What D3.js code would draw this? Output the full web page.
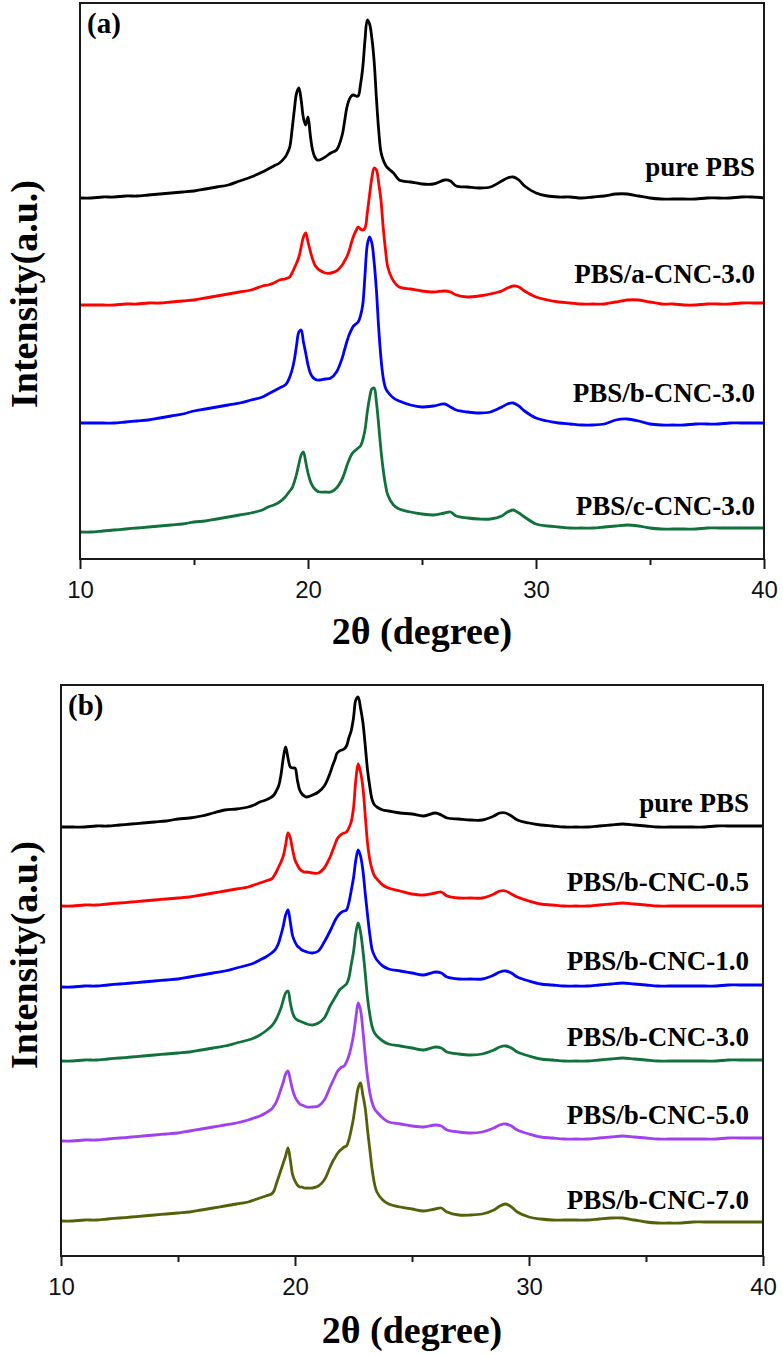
<!DOCTYPE html>
<html><head><meta charset="utf-8">
<script src="https://cdn.jsdelivr.net/npm/d3@7/dist/d3.min.js"></script>
<style>body{margin:0;background:#fff}</style>
</head><body>
<svg id="chart" width="783" height="1357"></svg>
<script>
// 2θ sampling grid (degree), shared by all patterns
const twoTheta = [10,10.5,11,11.5,12,12.5,13,13.5,14,14.5,15,15.5,16,16.5,17,17.5,18,
  18.25,18.5,18.75,
  19.0,19.1,19.2,19.3,19.4,19.5,19.6,19.7,19.8,19.9,20.0,20.1,20.2,20.3,20.4,20.5,
  20.75,21.0,21.25,
  21.5,21.6,21.7,21.8,21.9,22.0,22.1,22.2,22.3,22.4,22.5,22.6,22.7,22.8,22.9,23.0,23.1,23.2,23.3,23.4,23.5,
  23.75,24.0,
  24.5,25,25.5,26,26.25,26.5,27,27.5,28,28.5,28.75,29,29.25,29.5,30,
  30.5,31,31.5,32,32.5,33,33.5,34,34.5,35,35.5,36,36.5,37,37.5,38,38.5,39,39.5,40];

// Panel (a) intensities (a.u.)
const a_purePBS = [20,20,21,21,22,22,23,24,25,26,27,29,31,33,37,41,46,
  49,52,55,
  61,65,71,88,108,125,130,118,100,93,101,83,68,61,58,58,
  61,65,68,
  83,96,110,118,122,123,122,122,133,150,178,198,194,180,157,120,88,66,58,53,50,
  45,38,
  36,34,34,38,37,32,31,30,31,37,40,41,38,32,25,
  22,21,21,20,21,22,24,24,22,20,19,19,19,19,20,20,20,21,21,20];
const a_aCNC30 = [18,18,18,18,19,19,20,20,21,22,23,25,27,29,31,33,37,
  38,40,43,
  44,45,46,50,55,60,66,76,86,90,81,72,64,58,55,53,
  50,50,52,
  58,62,66,72,80,87,92,96,94,93,95,110,128,145,155,153,140,123,95,73,56,
  42,36,
  34,32,31,32,31,28,26,27,29,32,35,37,36,32,26,
  23,21,20,19,19,19,21,23,23,21,19,19,18,18,19,19,19,20,20,20];
const a_bCNC30 = [20,20,20,20,21,22,23,25,27,29,32,34,36,38,40,43,46,
  49,52,55,
  58,61,66,73,83,98,111,113,101,90,78,70,66,64,63,63,
  64,65,71,
  85,93,101,108,113,117,119,121,127,138,168,198,206,200,181,153,115,85,65,55,51,
  45,42,
  38,36,37,39,36,33,31,30,31,36,39,40,37,32,25,
  22,20,19,18,18,19,23,24,22,19,18,18,18,19,19,19,20,20,20,20];
const a_cCNC30 = [16,16,17,18,19,20,21,22,23,24,26,27,29,31,33,35,38,
  41,43,46,
  51,54,57,60,66,74,84,93,96,86,75,67,62,59,57,56,
  56,56,60,
  69,75,82,88,93,96,98,100,102,108,118,136,150,159,160,146,123,98,78,63,53,
  43,39,
  36,34,33,35,36,32,30,29,29,32,36,38,35,31,24,
  22,21,20,20,20,21,22,23,22,20,19,19,19,19,20,20,20,20,20,20];

// Panel (b) intensities (a.u.)
const b_purePBS = [19,19,19,20,20,21,22,23,24,25,27,28,30,33,36,37,39,
  41,44,46,
  49,51,55,60,71,88,99,88,79,78,78,66,56,52,50,49,
  51,54,60,
  73,80,86,93,95,96,97,100,108,115,128,146,149,138,124,101,76,59,46,41,39,
  36,35,
  33,32,30,33,31,28,27,26,26,30,33,33,30,26,23,
  21,20,19,19,19,20,21,22,21,20,19,19,19,19,19,20,20,20,20,20];
const b_bCNC05 = [20,20,21,21,22,23,24,25,26,27,28,29,31,33,35,37,39,
  41,43,45,
  47,50,54,59,64,70,81,93,88,76,66,61,57,55,54,54,
  53,53,58,
  69,75,81,87,90,92,93,94,98,104,118,146,162,154,139,111,83,66,56,50,47,
  41,38,
  35,32,31,33,34,30,28,28,28,32,35,35,32,29,25,
  22,21,20,20,20,21,22,23,22,21,20,20,20,20,20,20,20,20,20,20];
const b_bCNC10 = [18,18,19,19,20,21,22,23,24,25,26,28,30,32,34,37,40,
  42,45,48,
  52,54,57,62,70,79,90,95,83,69,63,59,57,55,54,53,
  52,54,63,
  74,79,84,88,91,93,94,95,102,114,127,145,155,149,135,112,90,70,55,49,45,
  39,36,
  34,32,30,33,32,28,26,26,26,30,33,34,32,28,24,
  21,20,19,19,19,20,21,22,21,20,19,19,19,19,19,19,20,20,20,20];
const b_bCNC30 = [19,19,20,20,21,22,23,24,25,26,27,28,30,32,34,37,40,
  42,45,49,
  54,57,61,66,72,80,87,89,77,67,62,60,59,58,57,56,
  55,57,62,
  74,78,82,86,90,92,94,96,102,115,128,147,157,148,130,107,82,65,53,47,44,
  39,36,
  34,32,30,33,32,28,26,25,26,30,33,34,32,28,24,
  21,20,19,19,19,20,21,22,21,20,19,19,19,19,19,19,20,20,20,20];
const b_bCNC50 = [17,17,18,18,19,20,21,22,23,24,25,27,29,31,33,35,38,
  40,42,45,
  49,52,56,62,69,76,84,87,78,68,61,57,54,53,52,51,
  51,52,58,
  71,76,81,86,89,91,92,96,102,111,123,140,155,148,128,103,81,65,55,49,46,
  40,36,
  34,32,31,33,32,28,26,25,26,30,33,34,32,28,24,
  21,20,19,19,19,20,21,22,21,20,19,19,19,19,19,19,20,20,20,20];
const b_bCNC70 = [21,21,22,22,23,24,25,26,27,28,29,30,32,34,36,38,40,
  42,44,46,
  48,51,58,65,72,79,86,94,82,67,61,57,55,55,54,54,
  54,56,62,
  75,80,84,88,91,93,95,96,102,112,124,140,154,159,147,134,112,92,72,58,50,
  42,38,
  35,33,31,33,34,30,27,27,28,32,36,38,35,30,25,
  23,22,22,22,22,23,24,24,22,20,19,19,19,20,20,20,20,20,20,20];

const labelsA = ["pure PBS","PBS/a-CNC-3.0","PBS/b-CNC-3.0","PBS/c-CNC-3.0"];
const labelsB = ["pure PBS","PBS/b-CNC-0.5","PBS/b-CNC-1.0","PBS/b-CNC-3.0","PBS/b-CNC-5.0","PBS/b-CNC-7.0"];
const offsetsA = [341,236,116,11];          // vertical stacking shift (a.u.)
const offsetsB = [410,330,251,176,98,14];
const majorTicks = [10,20,30,40];
const minorTicks = [15,25,35];

const colorsA = ["#000000","#ff0000","#0000ff","#11713a"];
const colorsB = ["#000000","#ff0000","#0000ff","#11713a","#a040f0","#56600a"];

const svg = d3.select("#chart");
const serif = "'Liberation Serif','Times New Roman',Times,serif";
const sans = "'Liberation Sans',Arial,Helvetica,sans-serif";

function panel(cfg){
  const x = d3.scaleLinear().domain([10,40]).range([cfg.left, cfg.right]);
  const y = d3.scaleLinear().domain([0, cfg.yMax]).range([cfg.bottom, cfg.top]);
  const g = svg.append("g");

  // curves
  cfg.series.forEach((vals, i) => {
    const pts = twoTheta.map((t, k) => [t, vals[k]]).filter(d => d[1] != null);
    const line = d3.line().x(d => x(d[0])).y(d => y(d[1] + cfg.offsets[i]))
      .curve(d3.curveCatmullRom.alpha(0.5));
    g.append("path").datum(pts).attr("d", line)
      .attr("fill","none").attr("stroke", cfg.colors[i])
      .attr("stroke-width", 2.8).attr("stroke-linejoin","round");
  });

  // frame
  g.append("rect").attr("x", cfg.left).attr("y", cfg.top)
    .attr("width", cfg.right - cfg.left).attr("height", cfg.bottom - cfg.top)
    .attr("fill","none").attr("stroke","#1a1a1a").attr("stroke-width",2);

  // bottom axis
  const ax = g.append("g").attr("transform", `translate(0,${cfg.bottom})`)
    .call(d3.axisBottom(x).tickValues(majorTicks).tickSize(10).tickPadding(12).tickFormat(d3.format("d")));
  ax.select(".domain").remove();
  ax.selectAll("line").attr("stroke","#1a1a1a").attr("stroke-width",2);
  ax.selectAll("text").attr("font-family", sans).attr("font-size", 24).attr("fill","#111");
  const mx = g.append("g").attr("transform", `translate(0,${cfg.bottom})`)
    .call(d3.axisBottom(x).tickValues(minorTicks).tickSize(6).tickFormat(""));
  mx.select(".domain").remove();
  mx.selectAll("line").attr("stroke","#1a1a1a").attr("stroke-width",2);

  // series labels
  cfg.labels.forEach((lab, i) => {
    g.append("text").attr("x", cfg.labelX).attr("y", cfg.labelY[i])
      .attr("text-anchor","end").attr("font-family", serif).attr("font-weight","bold")
      .attr("font-size", 27).attr("fill","#000").text(lab);
  });

  // panel tag
  g.append("text").attr("x", cfg.left + 7).attr("y", cfg.tagY)
    .attr("font-family", serif).attr("font-weight","bold").attr("font-size",29).text(cfg.tag);

  // axis titles
  g.append("text").attr("x", (cfg.left + cfg.right)/2).attr("y", cfg.xTitleY)
    .attr("text-anchor","middle").attr("font-family", serif).attr("font-weight","bold")
    .attr("font-size",38).text("2θ (degree)");
  g.append("text").attr("transform", `translate(37,${cfg.yTitleY}) rotate(-90)`)
    .attr("text-anchor","middle").attr("font-family", serif).attr("font-weight","bold")
    .attr("font-size",38).text("Intensity(a.u.)");
}

panel({left:80, right:764, top:3, bottom:559, yMax:556,
  series:[a_purePBS,a_aCNC30,a_bCNC30,a_cCNC30], offsets:offsetsA, colors:colorsA,
  labels:labelsA, labelX:755, labelY:[176,283,402,515], tag:"(a)", tagY:33,
  xTitleY:644, yTitleY:294});

panel({left:61, right:763, top:685, bottom:1256, yMax:571,
  series:[b_purePBS,b_bCNC05,b_bCNC10,b_bCNC30,b_bCNC50,b_bCNC70], offsets:offsetsB, colors:colorsB,
  labels:labelsB, labelX:749, labelY:[812,891,970,1046,1124,1209], tag:"(b)", tagY:715,
  xTitleY:1343, yTitleY:955});
</script>
</body></html>
